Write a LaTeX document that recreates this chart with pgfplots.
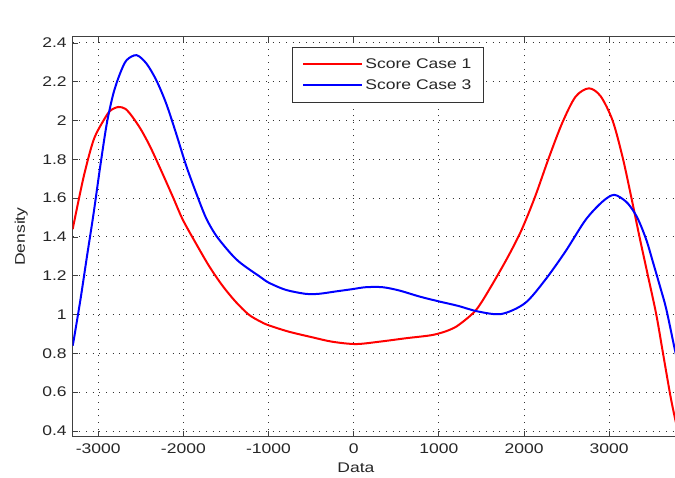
\documentclass[border=0pt]{standalone}
\usepackage{pgfplots}
\pgfplotsset{compat=1.18}
\usepackage{fontspec}
\setmainfont{Liberation Sans}[FakeStretch=1.25]

\pgfplotstableread{
x      y
-3300  1.440
-3171  1.710
-3054  1.900
-2938  2.000
-2860  2.050
-2764  2.070
-2680  2.060
-2600  2.020
-2500  1.955
-2395  1.870
-2279  1.760
-2124  1.607
-2008  1.490
-1853  1.367
-1698  1.250
-1543  1.150
-1388  1.067
-1233  1.000
-1100  0.965
-1000  0.945
-764   0.912
-488   0.883
-252   0.860
24     0.848
299    0.860
614    0.878
929    0.895
1126   0.921
1244   0.950
1439   1.025
1620   1.150
1814   1.300
1972   1.437
2130   1.608
2289   1.805
2447   1.986
2605   2.123
2763   2.166
2900   2.125
3040   2.000
3158   1.810
3257   1.610
3356   1.400
3455   1.200
3553   1.000
3632   0.800
3711   0.600
3751   0.510
3800   0.410
}\caseone

\pgfplotstableread{
x      y
-3300  0.840
-3287  0.870
-3209  1.076
-3132  1.300
-3054  1.522
-2977  1.762
-2899  1.985
-2822  2.139
-2744  2.242
-2667  2.311
-2550  2.337
-2434  2.294
-2318  2.208
-2202  2.088
-2085  1.933
-1969  1.770
-1853  1.630
-1736  1.500
-1620  1.410
-1465  1.325
-1354  1.275
-1233  1.235
-1100  1.195
-1000  1.165
-803   1.128
-567   1.107
-409   1.107
-213   1.119
-16    1.131
142    1.141
339    1.141
535    1.124
772    1.093
1008   1.067
1224   1.045
1458   1.016
1735   1.003
2012   1.059
2249   1.179
2486   1.325
2723   1.488
2921   1.582
3059   1.617
3198   1.582
3290   1.530
3356   1.475
3440   1.380
3514   1.270
3600   1.140
3672   1.025
3771   0.819
3800   0.770
}\casethree

\begin{document}
\begin{tikzpicture}
\useasboundingbox (0,0) rectangle (506.25pt,358.5pt);
\begin{axis}[
  at={(54.5pt,31.3pt)}, anchor=south west,
  scale only axis,
  width=453.5pt, height=299.5pt,
  xmin=-3300, xmax=3800,
  ymin=0.3727, ymax=2.431,
  xtick={-3000,-2000,...,3000},
  ytick={0.4,0.6,...,2.41},
  ytick pos=left,
  xtick pos=both,
  tick align=inside,
  major tick length=3.75pt,
  tick style={black!75, line width=0.6pt},
  axis line style={black!75, line width=0.75pt},
  grid=major,
  major grid style={black!80, line width=0.7pt, dash pattern=on 0.7pt off 4.3pt},
  /pgf/number format/assume math mode=true,
  ticklabel style={font=\fontsize{10.5}{12}\selectfont, text=black!85},
  yticklabel style={xshift=-1pt},
  xticklabel style={yshift=-2pt},
  /pgf/number format/.cd, fixed, precision=1,
  /pgfplots/.cd,
  xticklabel={\pgfmathprintnumber[fixed, precision=0, 1000 sep={}]{\tick}},
  xlabel={Data},
  xlabel style={at={(axis description cs:0.4685,-0.079)}, anchor=center, font=\fontsize{10.5}{12}\selectfont, text=black!85},
  ylabel={Density},
  ylabel style={at={(axis description cs:-0.085,0.5)}, anchor=center, font=\fontsize{10.5}{12}\selectfont, text=black!85},
  legend cell align=left,
  legend image code/.code={\draw[#1] (0pt,0pt) -- (44pt,0pt);},
  legend style={
    at={(axis description cs:0.3632,0.974)}, anchor=north west,
    draw=black!80, line width=0.75pt, fill=white,
    inner xsep=7pt, inner ysep=6pt,
    row sep=3pt,
    font=\fontsize{10.5}{12}\selectfont,
    text=black!85,
  },
]
\addplot[red, line width=1.5pt, smooth] table {\caseone};
\addlegendentry{Score Case 1}
\addplot[blue, line width=1.5pt, smooth] table {\casethree};
\addlegendentry{Score Case 3}
\node[anchor=base west, inner sep=0pt, yshift=6.8pt, font=\fontsize{10.5}{12}\selectfont, text=black!85]
  at (axis description cs:0,1) {x 10\raisebox{0.75ex}{\fontsize{9}{10}\selectfont -4}};
\end{axis}
\end{tikzpicture}
\end{document}
